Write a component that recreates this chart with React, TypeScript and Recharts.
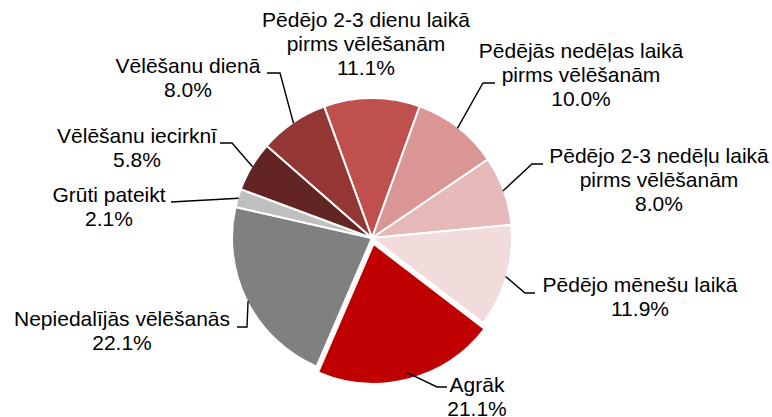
import React from 'react';
import { PieChart, Pie, Cell } from 'recharts';

// slices, clockwise from the top one
const CATEGORIES = [
  'Pēdējo 2-3 dienu laikā pirms vēlēšanām',
  'Pēdējās nedēļas laikā pirms vēlēšanām',
  'Pēdējo 2-3 nedēļu laikā pirms vēlēšanām',
  'Pēdējo mēnešu laikā',
  'Agrāk',
  'Nepiedalījās vēlēšanās',
  'Grūti pateikt',
  'Vēlēšanu iecirknī',
  'Vēlēšanu dienā',
];
const SHARES = [11.1, 10.0, 8.0, 11.9, 21.1, 22.1, 2.1, 5.8, 8.0];
const EXPLODED = 'Agrāk';

const COLORS = ['#C0504D', '#D99694', '#E6B9B8', '#F2DCDB', '#C00000', '#808080', '#BFBFBF', '#632523', '#943634'];

// label text centre, first baseline, leader elbow points
const LABEL_LAYOUT: { x: number; y: number; path: number[][] }[] = [
  { x: 366, y: 27, path: [] },
  { x: 581, y: 58, path: [[483, 83], [495, 83]] },
  { x: 659, y: 163, path: [[532, 164], [543, 164]] },
  { x: 640, y: 292, path: [[525, 293], [535, 293]] },
  { x: 477, y: 392, path: [[437, 387], [447, 387]] },
  { x: 122, y: 326, path: [[247, 327], [237, 327]] },
  { x: 109, y: 202, path: [[171, 202]] },
  { x: 137, y: 143, path: [[232, 143], [220, 143]] },
  { x: 188, y: 73, path: [[280, 73], [267, 73]] },
];

const W = 772;
const H = 417;
const CX = 372;
const CY = 238;
const R = 140;
const START = 110;
const EXPLODE = 6;
const LINE_H = 24;
const FONT = '"Liberation Sans", Arial, sans-serif';

const data = CATEGORIES.map((name, i) => ({ name, value: SHARES[i] }));

const total = SHARES.reduce((a, b) => a + b, 0);
const expIdx = CATEGORIES.indexOf(EXPLODED);
const before = SHARES.slice(0, expIdx).reduce((a, b) => a + b, 0);
// clockwise-from-top angle of the exploded slice's middle
const expTheta = ((90 - START) + (360 * (before + SHARES[expIdx] / 2)) / total) * Math.PI / 180;
const expDx = EXPLODE * Math.sin(expTheta);
const expDy = -EXPLODE * Math.cos(expTheta);

const renderLabel = (p: any) => {
  const i = p.index;
  const lay = LABEL_LAYOUT[i];
  const rad = Math.PI / 180;
  const r = p.outerRadius - 1;
  const sx = p.cx + r * Math.cos(-p.midAngle * rad);
  const sy = p.cy + r * Math.sin(-p.midAngle * rad);
  const name: string = CATEGORIES[i];
  const parts = name.includes(' pirms ') ? name.replace(' pirms ', '\npirms ').split('\n') : [name];
  const lines = [...parts, `${SHARES[i].toFixed(1)}%`];
  const pts = lay.path.length ? [[sx, sy], ...lay.path].map((q) => q.join(',')).join(' ') : '';
  return (
    <g key={`lbl-${i}`}>
      {pts && <polyline points={pts} fill="none" stroke="#000" strokeWidth={1.4} />}
      {lines.map((t, k) => (
        <text key={k} x={lay.x} y={lay.y + k * LINE_H} textAnchor="middle" fontSize={21} fontFamily={FONT} fill="#000">
          {t}
        </text>
      ))}
    </g>
  );
};

const App: React.FC = () => {
  return (
    <div style={{ position: 'absolute', left: 0, top: 0, width: W, height: H, background: '#fff' }}>
      <PieChart width={W} height={H} margin={{ top: 0, right: 0, bottom: 0, left: 0 }}>
        <Pie
          data={data}
          dataKey="value"
          nameKey="name"
          cx={CX}
          cy={CY}
          outerRadius={R}
          startAngle={START}
          endAngle={START - 360}
          stroke="#fff"
          strokeWidth={2}
          label={renderLabel}
          labelLine={false}
          isAnimationActive={false}
        >
          {data.map((d, i) => (
            <Cell
              key={d.name}
              fill={i === expIdx ? 'transparent' : COLORS[i]}
              stroke={i === expIdx ? 'none' : '#fff'}
            />
          ))}
        </Pie>
        <Pie
          data={data}
          dataKey="value"
          nameKey="name"
          cx={CX + expDx}
          cy={CY + expDy}
          outerRadius={R}
          startAngle={START}
          endAngle={START - 360}
          strokeWidth={2}
          labelLine={false}
          isAnimationActive={false}
        >
          {data.map((d, i) => (
            <Cell
              key={d.name}
              fill={i === expIdx ? COLORS[i] : 'transparent'}
              stroke={i === expIdx ? '#fff' : 'none'}
            />
          ))}
        </Pie>
      </PieChart>
    </div>
  );
};

export default App;
